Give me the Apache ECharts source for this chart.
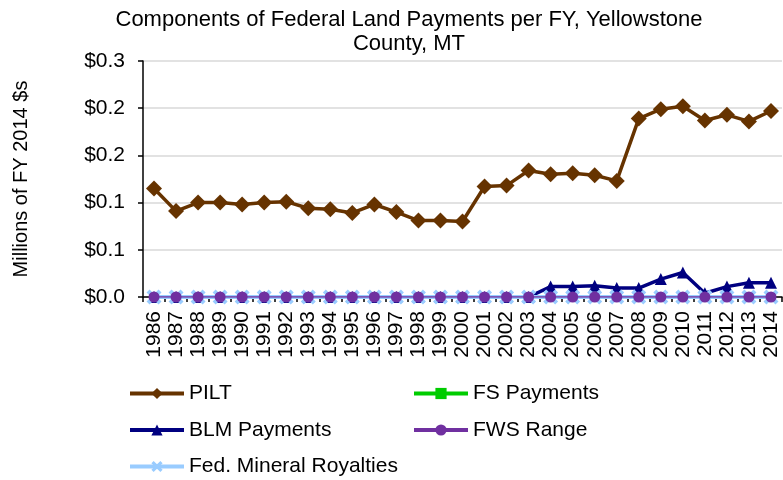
<!DOCTYPE html>
<html>
<head>
<meta charset="utf-8">
<script src="https://cdn.jsdelivr.net/npm/echarts@6/dist/echarts.min.js"></script>
<style>
    html, body { margin: 0; padding: 0; background: #fff; }
    #chart { width: 783px; height: 480px; }
</style>
</head>
<body>
<div id="chart"></div>
<script>
// fiscal years on the x axis
var years = ['1986', '1987', '1988', '1989', '1990', '1991', '1992', '1993', '1994', '1995',
    '1996', '1997', '1998', '1999', '2000', '2001', '2002', '2003', '2004', '2005',
    '2006', '2007', '2008', '2009', '2010', '2011', '2012', '2013', '2014'];

// millions of FY 2014 dollars
var pilt = [0.115, 0.091, 0.100, 0.100, 0.098, 0.100, 0.101, 0.094, 0.093, 0.089,
    0.098, 0.090, 0.081, 0.081, 0.080, 0.117, 0.118, 0.134, 0.130, 0.131,
    0.129, 0.123, 0.189, 0.199, 0.202, 0.187, 0.193, 0.186, 0.197];
var fsPayments = [0, 0, 0, 0, 0, 0, 0, 0, 0, 0, 0, 0, 0, 0, 0, 0, 0, 0, 0, 0, 0, 0, 0, 0, 0, 0, 0, 0, 0];
var blmPayments = [0, 0, 0, 0, 0, 0, 0, 0, 0, 0, 0, 0, 0, 0, 0, 0, 0, 0,
    0.011, 0.011, 0.012, 0.0095, 0.0095, 0.019, 0.026, 0.004, 0.011, 0.015, 0.015];
var fwsRange = [0, 0, 0, 0, 0, 0, 0, 0, 0, 0, 0, 0, 0, 0, 0, 0, 0, 0, 0, 0, 0, 0, 0, 0, 0, 0, 0, 0, 0];
var mineralRoyalties = [0, 0, 0, 0, 0, 0, 0, 0, 0, 0, 0, 0, 0, 0, 0, 0, 0, 0, 0, 0, 0, 0, 0, 0, 0, 0, 0, 0, 0];

// excel rounded the 0.05 steps to one decimal
var yTickLabels = ['$0.0', '$0.1', '$0.1', '$0.2', '$0.2', '$0.3'];

var FONT = 'Liberation Sans';
var crossIcon = 'path://M2,0 L5,3 L8,0 L10,2 L7,5 L10,8 L8,10 L5,7 L2,10 L0,8 L3,5 L0,2 Z';

var chart = echarts.init(document.getElementById('chart'));

function lineSeries(name, data, color, symbol, size, width, z) {
    return {
        type: 'line',
        name: name,
        data: data,
        z: z,
        symbol: symbol,
        symbolSize: size,
        showAllSymbol: true,
        animation: false,
        lineStyle: {color: color, width: width},
        itemStyle: {color: color}
    };
}

var legendText = {fontFamily: FONT, fontSize: 21, color: '#000', lineHeight: 21};

function legendBox(left, items) {
    return {
        orient: 'vertical',
        left: left,
        top: 383,
        height: 110,
        padding: 0,
        itemWidth: 54,
        itemHeight: 14,
        itemGap: 15.5,
        textStyle: legendText,
        lineStyle: {width: 4},
        data: items
    };
}

var options = {
    textStyle: {fontFamily: FONT},
    title: {
        text: 'Components of Federal Land Payments per FY, Yellowstone\nCounty, MT',
        left: 404,
        textAlign: 'center',
        top: 3,
        textStyle: {fontFamily: FONT, fontSize: 22, fontWeight: 'normal', color: '#000', lineHeight: 24}
    },
    legend: [
        legendBox(128, ['PILT', 'BLM Payments', 'Fed. Mineral Royalties']),
        legendBox(412, ['FS Payments', 'FWS Range'])
    ],
    grid: {
        left: 143,
        right: 1,
        top: 61,
        bottom: 183
    },
    xAxis: {
        type: 'category',
        data: years,
        boundaryGap: true,
        axisLine: {lineStyle: {color: '#000', width: 1.5}},
        axisTick: {show: true, interval: 0, length: 5, lineStyle: {color: '#000', width: 1.5}},
        axisLabel: {interval: 0, rotate: 90, margin: 14, color: '#000', fontFamily: FONT, fontSize: 21}
    },
    yAxis: {
        type: 'value',
        min: 0,
        max: 0.25,
        interval: 0.05,
        name: 'Millions of FY 2014 $s',
        nameLocation: 'middle',
        nameGap: 112,
        nameRotate: 90,
        nameTextStyle: {fontFamily: FONT, fontSize: 20, color: '#000'},
        axisLine: {show: true, lineStyle: {color: '#000', width: 1.5}},
        axisTick: {show: true, length: 5, lineStyle: {color: '#000', width: 1.5}},
        splitLine: {lineStyle: {color: '#d9d9d9', width: 1.5}},
        axisLabel: {
            margin: 18,
            color: '#000',
            fontFamily: FONT,
            fontSize: 21,
            formatter: function (v) {
                return yTickLabels[Math.round(v / 0.05)];
            }
        }
    },
    series: [
        lineSeries('PILT', pilt, '#663300', 'diamond', 16, 3.5, 6),
        lineSeries('FS Payments', fsPayments, '#00cc00', 'rect', 9, 3, 1),
        lineSeries('BLM Payments', blmPayments, '#000080', 'triangle', 12, 3.5, 2),
        lineSeries('FWS Range', fwsRange, '#7030a0', 'circle', 11, 1.5, 4),
        lineSeries('Fed. Mineral Royalties', mineralRoyalties, '#99ccff', crossIcon, 15, 4, 3)
    ]
};

chart.setOption(options);
</script>
</body>
</html>
